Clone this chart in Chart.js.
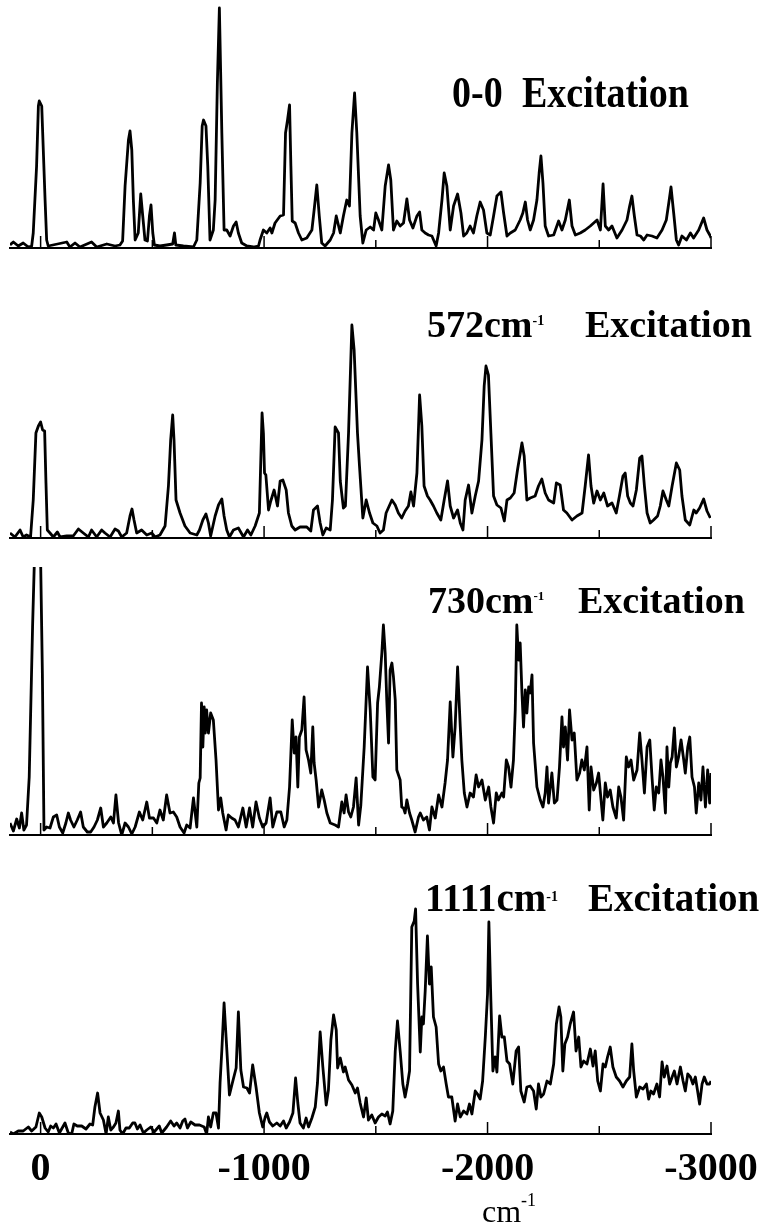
<!DOCTYPE html>
<html>
<head>
<meta charset="utf-8">
<script src="https://cdn.jsdelivr.net/npm/chart.js@4.4.1/dist/chart.umd.min.js"></script>
<style>
  body { margin: 0; background: #fff; }
  #page { position: relative; width: 763px; height: 1225px; overflow: hidden; background: #fff; }
  canvas { position: absolute; left: 0; }
  .ttl { position: absolute; font-family: "Liberation Serif", "Times New Roman", serif; font-weight: bold; font-size: 38px; line-height: 38px; white-space: nowrap; color: #000; }
  .sup { position: relative; font-size: 14px; }
  .axt { position: absolute; font-family: "Liberation Serif", "Times New Roman", serif; font-size: 32px; line-height: 32px; white-space: nowrap; color: #000; }
</style>
</head>
<body>
<div id="page">
  <canvas id="c1" width="763" height="250" style="top:0px"></canvas>
  <canvas id="c2" width="763" height="240" style="top:300px"></canvas>
  <canvas id="c3" width="763" height="270" style="top:567px"></canvas>
  <canvas id="c4" width="770" height="356" style="top:850px"></canvas>

  <div class="ttl" style="left:452px; top:76px; transform:scaleY(1.15); transform-origin:left bottom">0-0</div>
  <div class="ttl" style="left:522px; top:76px; transform:scaleY(1.15); transform-origin:left bottom">Excitation</div>

  <div class="ttl" style="left:427px; top:305px">572cm<span class="sup" style="top:-12px">-1</span></div>
  <div class="ttl" style="left:585px; top:305px">Excitation</div>

  <div class="ttl" style="left:428px; top:581px">730cm<span class="sup" style="top:-13px; font-size:13px">-1</span></div>
  <div class="ttl" style="left:578px; top:581px">Excitation</div>

  <div class="ttl" style="left:425px; top:878px; font-size:39px; line-height:39px">1111cm<span class="sup" style="top:-10px">-1</span></div>
  <div class="ttl" style="left:588px; top:878px; font-size:39px; line-height:39px">Excitation</div>

  <div class="axt" style="left:482px; top:1195px">cm<span style="position:relative; top:-16px; font-size:18px">-1</span></div>
</div>
<script>
// Raman shift (cm-1) and intensity
const tickValues = [0, -500, -1000, -1500, -2000, -2500, -3000];

const shift00 = [137,122,100,78,55,40,33,18,10,6,-5,-12,-20,-27,-34,-117,-131,-154,-176,-228,-251,-296,-333,-355,-367,-378,-393,-400,-408,-415,-423,-437,-448,-457,-467,-478,-487,-494,-502,-509,-534,-564,-591,-599,-605,-639,-684,-699,-714,-723,-729,-740,-748,-758,-773,-781,-791,-800,-811,-821,-833,-848,-863,-875,-885,-900,-923,-952,-975,-982,-997,-1012,-1027,-1035,-1049,-1072,-1087,-1096,-1105,-1114,-1120,-1126,-1139,-1154,-1169,-1191,-1214,-1224,-1236,-1247,-1258,-1273,-1296,-1311,-1323,-1341,-1355,-1370,-1382,-1393,-1405,-1415,-1430,-1442,-1457,-1475,-1490,-1500,-1512,-1527,-1542,-1557,-1567,-1579,-1594,-1609,-1624,-1639,-1651,-1666,-1684,-1696,-1706,-1721,-1736,-1751,-1770,-1781,-1796,-1806,-1818,-1833,-1848,-1866,-1881,-1893,-1907,-1922,-1937,-1952,-1967,-1982,-1997,-2012,-2027,-2042,-2060,-2072,-2087,-2102,-2124,-2146,-2158,-2169,-2179,-2191,-2206,-2221,-2231,-2239,-2248,-2258,-2273,-2296,-2318,-2333,-2348,-2366,-2378,-2393,-2415,-2437,-2460,-2475,-2490,-2505,-2517,-2527,-2542,-2557,-2579,-2602,-2624,-2636,-2646,-2657,-2669,-2684,-2699,-2714,-2736,-2758,-2781,-2800,-2811,-2821,-2833,-2845,-2855,-2870,-2890,-2908,-2922,-2945,-2967,-2982,-2997,-3000];
const int00 = [3,6,2,5,1,2,15,82,142,147,142,98,48,8,2,6,1,5,1,6,1,4,2,3,7,62,108,117,98,48,8,15,54,32,8,7,32,43,15,3,2,3,4,15,3,2,1,8,65,122,128,122,82,8,18,48,165,240,115,18,18,12,22,26,15,5,2,1,2,8,18,15,20,15,25,32,33,115,128,143,82,27,25,15,8,10,18,38,63,32,5,2,8,15,32,15,32,48,42,115,155,115,32,5,18,21,18,35,28,18,62,83,68,18,27,22,25,49,28,20,32,36,18,15,13,12,2,15,48,75,62,18,42,54,35,12,15,22,15,32,46,38,15,13,32,52,56,35,12,15,18,28,35,46,28,18,28,48,75,92,65,22,12,13,27,18,28,48,22,13,15,18,22,25,28,18,64,22,18,22,10,18,28,42,52,32,13,12,8,13,12,10,18,28,45,61,35,8,3,12,8,15,10,18,30,18,12,10];

const shift572 = [137,115,92,78,63,45,33,21,10,0,-9,-18,-24,-30,-42,-57,-75,-87,-117,-146,-169,-191,-214,-228,-251,-273,-288,-311,-333,-348,-363,-385,-400,-409,-418,-430,-452,-475,-497,-512,-534,-557,-572,-582,-591,-597,-606,-624,-646,-669,-699,-711,-726,-740,-751,-761,-781,-796,-811,-821,-833,-845,-863,-885,-908,-926,-941,-960,-979,-991,-997,-1002,-1008,-1020,-1030,-1045,-1060,-1072,-1084,-1099,-1109,-1124,-1139,-1161,-1191,-1209,-1221,-1239,-1251,-1263,-1278,-1296,-1306,-1318,-1333,-1341,-1355,-1364,-1378,-1393,-1403,-1418,-1427,-1442,-1457,-1472,-1487,-1505,-1519,-1534,-1546,-1572,-1587,-1601,-1616,-1631,-1646,-1657,-1669,-1684,-1696,-1706,-1716,-1731,-1743,-1758,-1773,-1791,-1806,-1821,-1833,-1848,-1866,-1878,-1890,-1900,-1915,-1930,-1945,-1960,-1975,-1985,-1993,-2004,-2015,-2027,-2042,-2060,-2075,-2087,-2102,-2119,-2134,-2154,-2164,-2176,-2191,-2213,-2228,-2243,-2258,-2273,-2296,-2308,-2325,-2340,-2355,-2378,-2400,-2423,-2437,-2452,-2463,-2475,-2490,-2505,-2520,-2537,-2557,-2576,-2591,-2606,-2616,-2627,-2639,-2651,-2666,-2681,-2691,-2702,-2714,-2728,-2743,-2761,-2773,-2785,-2800,-2811,-2826,-2845,-2860,-2870,-2885,-2905,-2923,-2934,-2949,-2967,-2982,-2997];
const int572 = [5,1,8,1,3,1,38,105,112,116,108,107,55,8,5,1,6,1,2,2,9,5,1,8,1,8,5,1,9,7,1,5,22,29,18,5,8,3,5,1,3,12,52,98,123,98,38,25,12,5,3,8,18,24,15,2,22,33,39,22,8,1,8,10,1,8,3,12,25,125,105,65,63,28,37,48,32,57,58,48,25,12,8,11,11,7,28,32,15,3,10,8,38,111,105,57,30,32,105,213,188,105,72,20,38,25,15,12,5,8,25,38,33,25,20,27,32,46,32,65,143,112,52,42,38,32,25,18,38,57,32,20,28,15,8,38,53,25,42,57,98,152,172,163,105,42,33,30,17,38,40,45,68,95,82,38,40,42,52,59,45,38,35,55,53,28,25,18,22,25,52,83,52,35,47,38,45,32,35,25,43,62,65,42,35,32,48,80,82,52,25,15,18,22,32,47,38,32,52,75,68,42,18,13,28,25,30,39,27,20];

const shift730 = [137,122,107,95,85,75,63,51,36,10,-8,-15,-27,-42,-57,-72,-84,-99,-113,-124,-134,-149,-164,-179,-191,-209,-224,-239,-254,-269,-281,-296,-314,-326,-337,-349,-363,-378,-393,-408,-423,-442,-457,-475,-487,-505,-520,-534,-549,-564,-579,-594,-609,-624,-642,-654,-669,-684,-699,-708,-714,-720,-726,-732,-737,-743,-751,-761,-773,-785,-796,-806,-815,-830,-840,-855,-870,-885,-905,-920,-935,-949,-964,-979,-994,-1009,-1027,-1039,-1057,-1075,-1090,-1102,-1114,-1126,-1135,-1143,-1151,-1158,-1169,-1179,-1188,-1199,-1209,-1218,-1224,-1233,-1244,-1258,-1269,-1281,-1296,-1318,-1333,-1348,-1358,-1367,-1378,-1388,-1400,-1412,-1423,-1433,-1448,-1463,-1475,-1487,-1497,-1508,-1516,-1527,-1534,-1542,-1549,-1557,-1564,-1572,-1579,-1587,-1594,-1609,-1616,-1624,-1631,-1639,-1651,-1661,-1676,-1691,-1699,-1713,-1728,-1740,-1751,-1766,-1781,-1796,-1810,-1821,-1833,-1845,-1855,-1866,-1878,-1885,-1896,-1908,-1922,-1937,-1949,-1960,-1975,-1990,-2005,-2015,-2027,-2039,-2049,-2064,-2072,-2084,-2094,-2105,-2116,-2124,-2131,-2139,-2146,-2154,-2161,-2169,-2176,-2184,-2191,-2199,-2206,-2221,-2236,-2248,-2258,-2266,-2273,-2288,-2299,-2311,-2322,-2333,-2340,-2348,-2358,-2367,-2378,-2388,-2400,-2412,-2422,-2433,-2445,-2455,-2463,-2475,-2487,-2497,-2508,-2516,-2527,-2537,-2549,-2561,-2576,-2587,-2597,-2609,-2621,-2631,-2642,-2654,-2669,-2681,-2691,-2702,-2714,-2726,-2736,-2746,-2755,-2766,-2776,-2785,-2796,-2803,-2811,-2818,-2826,-2836,-2845,-2855,-2866,-2878,-2885,-2896,-2905,-2915,-2926,-2934,-2945,-2955,-2964,-2975,-2985,-2994,-3000];
const int730 = [12,4,16,7,22,5,10,58,208,420,160,5,8,7,18,20,8,2,12,22,15,8,15,23,8,3,3,8,15,27,8,12,18,12,40,12,0,12,8,1,8,23,15,33,17,17,12,25,15,40,22,23,18,8,2,10,7,37,8,52,57,132,88,128,102,125,102,122,115,75,25,37,22,5,20,17,15,8,27,8,27,8,33,17,8,12,37,8,23,23,8,15,48,115,82,98,48,98,105,138,85,75,62,108,72,55,28,45,35,22,12,10,8,33,22,40,23,18,28,57,10,30,88,168,125,58,55,132,148,182,210,182,135,92,165,172,158,135,65,55,28,27,22,35,22,15,3,18,22,15,18,5,28,17,40,28,52,75,133,78,108,168,108,75,42,28,42,38,60,48,55,35,48,28,12,42,35,42,38,75,68,48,75,125,210,175,192,142,108,145,122,148,142,160,92,48,35,28,42,68,32,62,32,35,68,118,88,108,75,125,95,102,55,62,75,65,88,25,68,45,52,62,35,15,52,38,45,28,17,48,38,15,78,68,75,55,65,102,75,42,88,95,58,25,48,42,75,58,22,88,48,72,78,107,68,78,95,75,62,88,98,58,48,22,52,35,68,28,65,32,62];

const shift1111 = [137,122,100,78,55,40,21,6,-5,-20,-34,-45,-57,-69,-84,-109,-124,-139,-149,-164,-184,-203,-221,-233,-243,-255,-266,-281,-293,-303,-314,-326,-337,-348,-355,-367,-382,-397,-412,-422,-433,-445,-460,-475,-493,-508,-531,-542,-564,-582,-597,-609,-624,-636,-646,-657,-672,-691,-711,-732,-743,-751,-761,-773,-785,-796,-803,-811,-821,-830,-845,-858,-875,-885,-896,-908,-923,-935,-949,-964,-979,-994,-1005,-1012,-1024,-1039,-1057,-1072,-1087,-1099,-1114,-1129,-1141,-1151,-1161,-1176,-1188,-1199,-1214,-1229,-1239,-1251,-1263,-1278,-1288,-1299,-1311,-1323,-1329,-1341,-1355,-1363,-1378,-1393,-1408,-1418,-1430,-1445,-1457,-1467,-1482,-1497,-1512,-1527,-1542,-1552,-1564,-1576,-1587,-1597,-1609,-1621,-1631,-1642,-1651,-1661,-1672,-1678,-1687,-1699,-1706,-1713,-1721,-1731,-1740,-1748,-1758,-1770,-1781,-1791,-1803,-1815,-1825,-1840,-1855,-1866,-1878,-1893,-1908,-1919,-1930,-1945,-1955,-1967,-1978,-1990,-2000,-2006,-2015,-2024,-2034,-2042,-2054,-2064,-2075,-2087,-2099,-2113,-2128,-2139,-2149,-2164,-2176,-2191,-2206,-2218,-2228,-2239,-2251,-2266,-2281,-2296,-2308,-2320,-2328,-2337,-2346,-2358,-2370,-2385,-2396,-2408,-2418,-2430,-2445,-2460,-2472,-2482,-2493,-2505,-2517,-2527,-2537,-2549,-2561,-2576,-2591,-2606,-2621,-2636,-2646,-2654,-2666,-2681,-2696,-2711,-2721,-2731,-2743,-2758,-2770,-2781,-2791,-2803,-2815,-2826,-2836,-2848,-2863,-2875,-2885,-2896,-2908,-2919,-2930,-2940,-2949,-2960,-2970,-2982,-2994,-3000];
const int1111 = [2,0,3,3,7,3,7,21,17,6,2,8,6,10,1,11,1,0,10,8,8,5,10,9,27,41,21,14,0,17,4,7,11,23,4,0,6,6,11,11,5,9,1,4,7,2,8,1,7,13,8,11,6,13,15,6,12,9,9,7,0,17,7,21,21,6,51,84,131,97,39,51,66,122,64,47,46,41,69,47,21,7,17,21,12,8,11,8,13,6,12,21,56,31,11,6,16,7,16,27,51,102,67,29,44,94,119,104,66,76,62,67,54,49,41,46,31,17,36,14,19,11,17,20,18,22,10,23,83,113,83,50,37,50,63,207,213,225,150,82,117,110,143,198,150,167,117,107,70,63,67,50,37,37,13,30,17,23,20,30,20,43,40,35,53,97,140,212,133,63,77,62,118,97,97,73,70,50,83,87,43,32,47,48,43,25,50,37,40,53,50,70,110,127,117,63,90,97,110,122,83,97,67,73,70,85,68,83,53,43,70,67,77,87,67,57,53,47,53,57,90,63,37,47,45,50,35,43,40,50,37,72,57,68,50,57,63,50,67,53,43,60,57,50,57,43,30,50,57,50,50,53];

// short inward tick marks on the x axis
const innerTicks = {
  id: 'innerTicks',
  afterDatasetsDraw(chart) {
    const { ctx, chartArea } = chart;
    const x = chart.scales.x;
    ctx.save();
    ctx.strokeStyle = '#000';
    ctx.lineWidth = 1.5;
    tickValues.forEach(v => {
      const px = x.getPixelForValue(v);
      const len = v % 1000 === 0 ? 12 : 8;
      ctx.beginPath();
      ctx.moveTo(px, chartArea.bottom);
      ctx.lineTo(px, chartArea.bottom - len);
      ctx.stroke();
    });
    ctx.restore();
  }
};

function makeChart(id, xs, ys, yMax, padRight, padBottom, showLabels) {
  const pts = xs.map((x, i) => ({ x: x, y: ys[i] }));
  return new Chart(document.getElementById(id), {
    type: 'line',
    data: {
      datasets: [{
        data: pts,
        borderColor: '#000',
        borderWidth: 2.8,
        borderJoinStyle: 'round',
        pointRadius: 0,
        tension: 0,
        fill: false
      }]
    },
    options: {
      responsive: false,
      animation: false,
      events: [],
      layout: { padding: { left: 10, right: padRight, top: 0, bottom: padBottom } },
      plugins: { legend: { display: false }, tooltip: { enabled: false } },
      scales: {
        x: {
          type: 'linear',
          min: -3000,
          max: 137,
          reverse: true,
          grid: { display: false, drawTicks: false },
          border: { display: true, color: '#000', width: 2 },
          afterBuildTicks: axis => { axis.ticks = tickValues.map(v => ({ value: v })); },
          ticks: {
            display: showLabels,
            autoSkip: false,
            maxRotation: 0,
            padding: 12,
            color: '#000',
            font: { family: 'Liberation Serif', size: 40, weight: 'bold' },
            callback: v => (v % 1000 === 0 ? String(v) : '')
          }
        },
        y: { display: false, min: 0, max: yMax }
      }
    },
    plugins: [innerTicks]
  });
}

makeChart('c1', shift00, int00, 248, 52, 2, false);
makeChart('c2', shift572, int572, 238, 52, 2, false);
makeChart('c3', shift730, int730, 268, 52, 2, false);
makeChart('c4', shift1111, int1111, 284, 59, 0, true);
</script>
</body>
</html>
